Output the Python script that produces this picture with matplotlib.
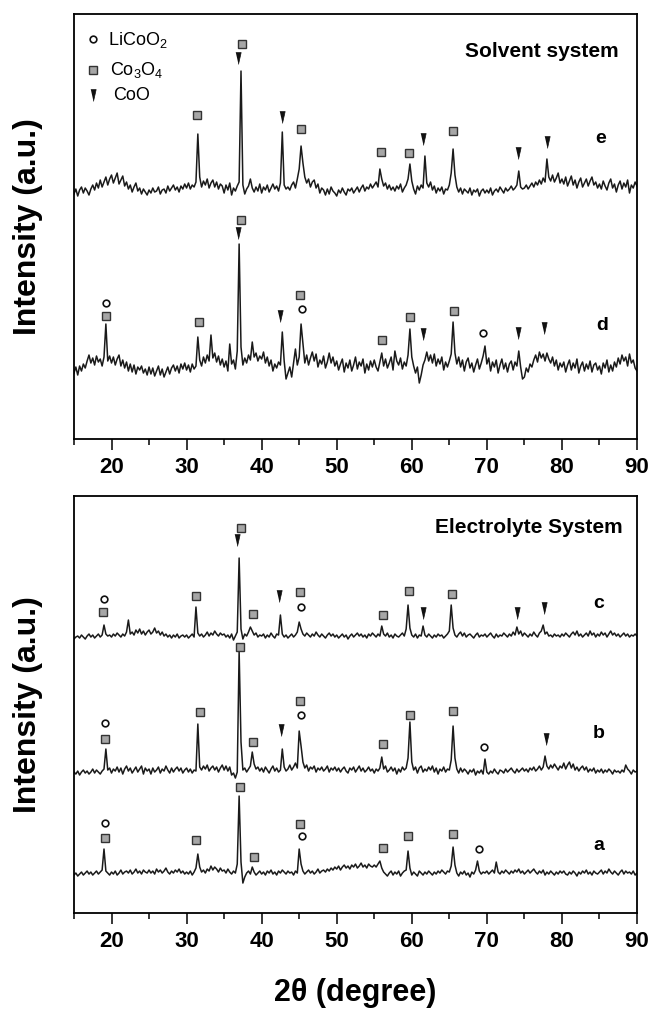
import numpy as np
import matplotlib.pyplot as plt

plt.rcParams['font.family'] = ['Liberation Sans', 'DejaVu Sans']
plt.rcParams['mathtext.fontset'] = 'custom'
plt.rcParams['mathtext.rm'] = 'Liberation Sans'
plt.rcParams['mathtext.it'] = 'Liberation Sans'
plt.rcParams['mathtext.bf'] = 'Liberation Sans:bold'

# scan grid, 0.25 deg steps from 15 to 90 (one row below = 5 deg)
two_theta = np.arange(15, 90.001, 0.25)

# scan intensities (a.u., above each pattern's own background level)
scan_e = [-3, 2, -5, 1, 4, -2, 3, 0, -4, 2, 6, 1, 8, 3, 11, 4, 9, 14, 6, 12,
          16, 8, 13, 18, 7, 11, 15, 5, 9, 2, 6, -1, 4, 8, 0, 3, -3, 2, -1, -4,
          1, -2, 3, -1, 0, 4, -3, 1, 2, -2, 5, 0, 3, 6, 1, 4, -1, 5, 2, 7,
          3, 8, 2, 6, 4, 9, 57, 14, 4, 10, 6, 12, 3, 8, 11, 4, 9, 2, 7, 5,
          -2, 6, 1, 8, -4, 3, 0, 5, 9, 120, 6, -3, 2, 5, 12, 3, -1, 4, 0, 7,
          -2, 4, 1, 6, -1, 3, 7, 2, 5, 0, 8, 59, 6, 2, 4, 1, 6, 9, 3, 12,
          22, 45, 28, 14, 8, 12, 4, 9, 11, 3, 7, -2, 3, 1, -4, 2, -3, 4, 0, -2,
          -5, 1, -2, 3, -1, -4, 2, 0, 3, -2, 1, 4, -1, 3, 6, 0, 4, 2, 7, 3,
          6, 9, 4, 22, 12, 5, 8, 2, 6, 1, 4, 0, 5, 2, 7, -1, 3, 6, 12, 27,
          10, 2, -3, 5, 1, 6, 3, 35, 8, 4, 9, 1, 5, -2, 3, 0, 4, -3, 2, 1,
          6, 18, 42, 16, 4, -1, 3, -3, 2, 0, -2, 3, -4, 1, -1, 2, -5, 0, 2, -2,
          1, -2, 3, -4, 0, 2, -1, 4, 1, -2, 3, 0, 2, 5, 1, 3, 6, 20, 4, 2,
          3, 6, 2, 5, 8, 4, 9, 6, 11, 7, 13, 9, 32, 14, 10, 16, 9, 13, 18, 8,
          12, 7, 14, 5, 10, 15, 6, 11, 3, 9, 13, 4, 8, 12, 5, 10, 14, 6, 9, 3,
          7, 2, 10, 5, 1, 8, 12, 3, 7, -1, 6, 10, 2, 8, 4, 11, -2, 6, 3, 9,
          5]
scan_d = [-4, 2, -6, 3, -2, 5, 1, 8, 14, 6, 11, 4, 13, 7, 10, 3, 12, 45, 8, 13,
          6, 12, 4, 10, 14, 3, 9, 1, 7, -2, 5, -3, 4, -5, 2, -1, 3, -4, 0, -6,
          2, -5, 1, -7, -2, 3, -6, 0, -8, -3, 2, -5, 1, 4, -2, 3, -4, 5, 0, 6,
          -1, 4, -3, 5, 0, 3, 32, 9, 3, 12, 6, 14, 8, 34, 11, 16, 7, 13, 4, 10,
          2, 8, -2, 25, 5, 9, 0, 18, 125, 22, 4, 11, 6, 14, 9, 27, 12, 16, 8, 13,
          10, 17, 6, 12, 3, 9, -2, 5, 1, 7, 4, 37, 8, -10, -4, 2, -8, 6, 20, 4,
          12, 45, 25, 6, 14, 4, 11, 17, 8, 15, 2, 9, 5, 13, 1, 7, 16, 6, 12, 3,
          8, -1, 5, 10, -3, 6, 1, 9, -2, 4, 12, 0, 7, 3, 10, -4, 5, -1, 8, 2,
          9, 2, -2, 7, 16, 3, 10, 1, 6, 12, -1, 18, 8, 4, 11, 0, 7, 3, 14, 40,
          12, 3, -4, 2, -14, -6, 4, 9, 17, 8, 14, 6, 15, 3, 10, 5, 12, -1, 7, 2,
          8, 15, 47, 16, 5, 12, 2, 9, -2, 7, 11, 1, 6, -3, 4, 10, 0, 6, 13, 23,
          5, 11, -2, 7, 2, 9, -4, 4, 10, 0, 6, -3, 5, 8, -1, 7, 3, 18, 2, -10,
          -8, 1, -3, 5, 2, 9, 14, 7, 17, 11, 15, 8, 16, 10, 6, 12, 3, 9, -1, 6,
          2, 7, -3, 4, 9, -1, 6, 1, 10, -4, 3, 7, -2, 5, 0, 8, -3, 4, 6, -1,
          3, -5, 6, 1, 9, -3, 4, -2, 7, 2, 11, 5, 14, 8, 12, 3, 15, 6, 9, 1,
          -2]
scan_c = [-2, 0, 1, -1, 2, 0, -2, 1, 3, 0, 2, -1, 1, 3, 0, 2, 12, 3, 1, 2,
          0, 3, 1, 4, 2, 0, 3, 1, 5, 17, 3, 5, 2, 7, 4, 8, 3, 6, 2, 5,
          7, 3, 5, 9, 4, 6, 2, 5, 1, 3, 0, 2, -1, 2, 0, 3, -1, 1, 2, 0,
          2, -1, 1, 3, 0, 30, 4, 1, 3, 0, 2, 5, 1, 4, 2, 6, 3, 1, 4, 2,
          3, 0, 2, -1, 3, -3, 1, 5, 79, 8, -2, 3, 1, 5, 10, 6, 2, 4, 0, 2,
          1, 3, -1, 2, 0, 4, 1, -1, 3, 2, 22, 3, 0, 2, -1, 1, 3, 0, 2, 5,
          15, 8, 3, 1, 4, 2, 0, 3, 1, 5, 2, 0, 3, 1, -1, 2, 4, 1, 3, 0,
          2, -1, 1, 3, 0, 2, -2, 1, 3, 0, 2, 4, 1, 3, 0, 2, -1, 3, 1, 4,
          2, 0, 3, 1, 11, 3, 1, 4, 0, 2, -1, 3, 1, 0, 2, 4, 1, 8, 32, 9,
          2, 0, 3, -1, 2, 1, 11, 2, 0, 3, 1, -1, 2, 0, 3, 1, 2, -1, 1, 3,
          6, 32, 9, 2, 0, 3, 5, 1, 4, 0, 2, 3, 1, -1, 2, 4, 0, 2, 1, 3,
          0, 2, 4, 1, -1, 3, 0, 2, 1, 4, 2, 0, 3, 1, 5, 2, 10, 3, 6, 1,
          4, 2, 0, 3, 1, 5, 2, 0, 4, 6, 12, 3, 5, 1, 2, 0, 3, 1, 2, 0,
          3, 1, 4, 2, 0, 3, 5, 2, 6, 1, 3, 0, 2, 4, 1, 6, 2, 4, 0, 3,
          1, 5, 2, 4, 0, 3, 6, 2, 4, 1, 3, 0, 2, 4, 1, 3, 0, 2, 1, 3,
          1]
scan_b = [0, -2, 1, -3, 0, 2, -1, 1, -2, 0, 3, -1, 2, 0, -2, 1, 3, 23, 2, 4,
          -1, 3, 1, 5, 0, 4, -2, 3, 6, 1, 4, -1, 2, 5, 0, 3, 6, -2, 4, 1,
          3, -2, 4, 0, 2, 5, -1, 3, 1, 6, 2, -1, 4, 0, 3, 5, 1, 4, -1, 2,
          4, 0, 3, -1, 2, 1, 48, 5, 2, 6, 3, 7, 1, 4, 6, 2, 5, 0, 4, 7,
          2, 6, 1, 5, -3, -1, -6, 0, 121, 30, 2, 4, 0, 3, 6, 20, 8, 3, 5, 1,
          4, 0, 5, 2, -1, 3, 6, 1, 4, 0, 2, 23, 5, 1, 3, 7, 2, 5, 9, 4,
          41, 26, 10, 4, 7, 1, 5, 3, 6, 0, 4, 2, 5, 1, 3, 6, 0, 4, 2, 5,
          1, 4, 0, 3, 5, 1, -1, 4, 2, 5, 0, 3, 6, 1, 4, 0, 2, 5, 1, 3,
          -1, 3, 1, 4, 15, 3, 6, 0, 2, 5, 1, 4, -2, 3, 0, 5, 2, 4, 14, 50,
          10, 2, 5, -1, 4, 6, 0, 3, 1, 5, 2, 6, 0, 4, -2, 3, 1, 5, 0, 3,
          2, 12, 46, 14, 3, -1, 4, 0, 3, 1, -2, 2, 0, 3, -3, 1, -1, 2, -2, 13,
          0, -2, 1, -1, 3, 0, -2, 2, 1, -1, 3, 0, 2, 4, 1, -1, 3, 0, 2, 4,
          1, 3, 0, 4, 2, 5, 1, 3, 6, 2, 5, 16, 6, 3, 7, 4, 8, 5, 2, 6,
          4, 9, 3, 7, 10, 4, 8, 2, 5, 1, 4, 6, 2, 5, 0, 3, 1, 4, -1, 2,
          0, 3, -1, 2, 0, 3, 1, -2, 2, 0, 1, -1, 2, 0, 7, 3, 1, -2, 2, 0,
          1]
scan_a = [-1, 1, -2, 0, 2, -1, 1, 3, 0, 2, -1, 1, 3, 0, 2, 4, 25, 3, 1, -1,
          2, 0, 3, -1, 1, 4, 0, 2, 3, 1, 4, 0, 2, 5, 1, 3, 0, 4, 2, 1,
          4, 1, 3, 0, 5, 2, 4, 1, 3, 6, 2, 0, 3, 1, 4, 2, 5, 1, 3, 0,
          2, 0, 3, -1, 2, 6, 20, 7, 2, 4, 1, 5, 3, 8, 4, 7, 5, 2, 6, 3,
          4, 1, 5, 2, 0, 3, 1, 10, 78, 12, -9, -3, 1, 3, 0, 7, 2, -1, 1, 3,
          0, 2, -1, 3, 1, 4, 0, 2, -1, 3, 1, 4, 2, 0, 3, 1, 2, -1, 3, 1,
          25, 10, 3, 0, 2, 4, 1, 3, 0, 2, 5, 1, 3, 4, 2, 5, 3, 6, 4, 7,
          5, 8, 4, 7, 9, 6, 8, 5, 9, 7, 10, 6, 8, 11, 7, 9, 6, 10, 8, 7,
          9, 7, 10, 13, 6, 2, 0, -2, 1, 3, -1, 2, 0, 3, -2, 1, 3, 4, 23, 6,
          -1, 2, 0, -2, 3, 1, -1, 2, 0, 3, 1, -1, 2, 0, 3, 1, 4, 2, 0, 3,
          2, 8, 27, 9, 1, -2, 2, 0, 3, -1, 1, -3, 2, 0, 4, 13, 3, 0, 2, 1,
          3, 0, 2, 4, 1, 12, 2, 0, 3, 1, 4, 2, 0, 3, 1, 4, 2, 5, 1, 3,
          0, 2, 4, 1, 3, 5, 2, 0, 3, 1, 4, -1, 2, 0, 3, 1, -1, 2, 0, 3,
          1, 3, 0, -1, 2, 0, 3, 1, -2, 2, 0, 3, 1, 4, 0, 2, -1, 3, 1, 0,
          2, 4, 0, 3, 1, 5, 2, 0, 3, 1, -1, 2, 4, 0, 3, 1, 2, 0, 3, -1,
          1]

# vertical stacking offsets of the patterns
offset_e, offset_d = 248, 70
offset_c, offset_b, offset_a = 276, 141, 39

# phase markers (2theta, height) per panel
top_circles_x = [19.28, 45.31, 69.49]
top_circles_y = [136, 130, 106]
top_squares_x = [31.4, 37.33, 45.26, 55.9, 59.66, 65.43, 37.3, 19.28, 31.7, 45.06, 56.0, 59.8, 65.63]
top_squares_y = [324, 395, 310, 287, 286, 308, 219, 123, 117, 144, 99, 122, 128]
top_tri_x = [36.9, 42.7, 61.56, 74.1, 77.97, 36.9, 42.45, 61.56, 74.16, 77.67]
top_tri_y = [381, 322, 300, 286, 297, 206, 123, 105, 106, 111]

bot_circles_x = [18.98, 45.21, 19.13, 45.2, 69.64, 19.13, 45.31, 68.94]
bot_circles_y = [314, 306, 190, 198, 166, 90, 77, 64]
bot_squares_x = [18.9, 31.3, 37.24, 38.84, 45.06, 56.15, 59.66, 65.38,
                 19.13, 31.82, 37.18, 38.84, 45.11, 56.15, 59.76, 65.53,
                 19.13, 31.32, 37.18, 39.04, 45.06, 56.15, 59.51, 65.53]
bot_squares_y = [301, 317, 385, 299, 321, 298, 322, 319,
                 174, 201, 266, 171, 212, 169, 198, 202,
                 75, 73, 126, 56, 89, 65, 77, 79]
bot_tri_x = [36.78, 42.3, 61.51, 74.05, 77.62, 42.55, 77.82]
bot_tri_y = [373, 317, 300, 300, 305, 183, 174]

for s in (scan_e, scan_d, scan_c, scan_b, scan_a):
    assert len(s) == len(two_theta), len(s)

tri = [(-0.45, 1), (0.45, 1), (0, -1)]
sq_kw = dict(ls='none', marker='s', ms=5.6, mfc='#a6a6a6', mec='#333333', mew=1.0)
ci_kw = dict(ls='none', marker='o', ms=4.8, mfc='white', mec='#111111', mew=1.2)
tr_kw = dict(ls='none', marker=tri, ms=8.5, mfc='#111111', mec='#111111', mew=0.5)

fig = plt.figure(figsize=(6.5, 10.09), dpi=100)
ax1 = fig.add_axes([0.1138, 0.5649, 0.8662, 0.4212])
ax2 = fig.add_axes([0.1138, 0.0951, 0.8662, 0.4133])

line_kw = dict(color='#1a1a1a', lw=1.1)
ax1.plot(two_theta, np.array(scan_e) + offset_e, **line_kw)
ax1.plot(two_theta, np.array(scan_d) + offset_d, **line_kw)
ax2.plot(two_theta, np.array(scan_c) + offset_c, **line_kw)
ax2.plot(two_theta, np.array(scan_b) + offset_b, **line_kw)
ax2.plot(two_theta, np.array(scan_a) + offset_a, **line_kw)

ax1.plot(top_squares_x, top_squares_y, **sq_kw)
ax1.plot(top_circles_x, top_circles_y, **ci_kw)
ax1.plot(top_tri_x, top_tri_y, **tr_kw)
ax2.plot(bot_squares_x, bot_squares_y, **sq_kw)
ax2.plot(bot_circles_x, bot_circles_y, **ci_kw)
ax2.plot(bot_tri_x, bot_tri_y, **tr_kw)

# hand-drawn legend as in the original
ax1.plot([17.55], [400], **ci_kw)
ax1.plot([17.55], [369], **sq_kw)
ax1.plot([17.55], [344], **tr_kw)
ax1.text(19.55, 394, r'LiCoO$_2$', fontsize=13)
ax1.text(19.77, 364, r'Co$_3$O$_4$', fontsize=13)
ax1.text(20.2, 339, 'CoO', fontsize=13)

ax1.text(87.5, 382, 'Solvent system', fontsize=15, fontweight='bold', ha='right')
ax2.text(88.1, 380, 'Electrolyte System', fontsize=15, fontweight='bold', ha='right')

ax1.text(85.1, 296, 'e', fontsize=14, fontweight='bold', ha='center')
ax1.text(85.3, 109, 'd', fontsize=14, fontweight='bold', ha='center')
ax2.text(84.9, 305, 'c', fontsize=14, fontweight='bold', ha='center')
ax2.text(84.9, 175, 'b', fontsize=14, fontweight='bold', ha='center')
ax2.text(84.9, 63, 'a', fontsize=14, fontweight='bold', ha='center')

for ax, top in [(ax1, 425), (ax2, 417)]:
    ax.set_xlim(15, 90)
    ax.set_ylim(0, top)
    ax.set_yticks([])
    ax.set_xticks(range(20, 91, 10))
    ax.set_xticks(range(15, 90, 10), minor=True)
    ax.tick_params(axis='x', which='major', direction='out', length=8, width=1.1,
                   labelsize=16, pad=5)
    ax.tick_params(axis='x', which='minor', direction='out', length=4.5, width=1.1)
    for lbl in ax.get_xticklabels():
        lbl.set_fontweight('bold')
    for s in ax.spines.values():
        s.set_linewidth(1.3)

fig.text(28 / 650, 1 - 227 / 1009, 'Intensity (a.u.)', rotation=90, fontsize=23,
         fontweight='bold', ha='center', va='center')
fig.text(28 / 650, 1 - 705 / 1009, 'Intensity (a.u.)', rotation=90, fontsize=23,
         fontweight='bold', ha='center', va='center')
fig.text(355.5 / 650, 1 - 993 / 1009, '2θ (degree)', fontsize=22, fontweight='bold',
         ha='center', va='center')

fig.savefig('out.png', dpi=100)
